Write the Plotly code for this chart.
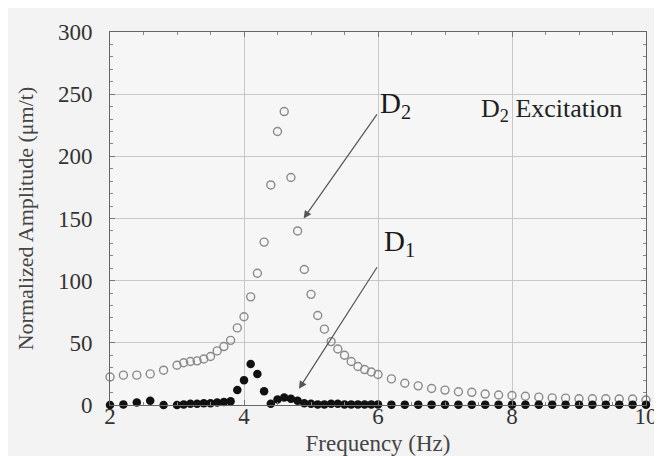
import plotly.graph_objects as go

freq = [2.0, 2.2, 2.4, 2.6, 2.8,
        3.0, 3.1, 3.2, 3.3, 3.4, 3.5, 3.6, 3.7, 3.8, 3.9,
        4.0, 4.1, 4.2, 4.3, 4.4, 4.5, 4.6, 4.7, 4.8, 4.9,
        5.0, 5.1, 5.2, 5.3, 5.4, 5.5, 5.6, 5.7, 5.8, 5.9,
        6.0, 6.2, 6.4, 6.6, 6.8, 7.0, 7.2, 7.4, 7.6, 7.8,
        8.0, 8.2, 8.4, 8.6, 8.8, 9.0, 9.2, 9.4, 9.6, 9.8, 10.0]

d2_amp = [22.5, 24, 24, 25, 28,
          32, 34, 35, 35.5, 37, 39, 43.5, 47, 52, 62,
          71, 87, 106, 131, 177, 220, 236, 183, 140, 109,
          89, 72, 61, 51, 45, 40, 35, 31, 28.5, 26.5,
          24.5, 21, 17.5, 15.4, 13.3, 12, 10.7, 10.2, 8.8, 8,
          7.6, 7, 6.3, 5.7, 5.5, 5, 5, 5, 4.8, 4.8, 4]

d1_amp = [0, 0.5, 2, 3.5, 0,
          0, 0.5, 1, 1, 1.5, 1.5, 2, 2.5, 3, 12,
          20, 33, 25, 11, 1, 4.5, 6, 5, 3.5, 1.5,
          1, 0.5, 0.5, 1, 1, 0.5, 0.5, 0.5, 0.5, 0.5,
          0.5, 0.3, 0.3, 0.3, 0.3, 0.3, 0.3, 0.3, 0.3, 0.3,
          0.3, 0.3, 0.3, 0.3, 0.3, 0.3, 0.3, 0.3, 0.3, 0.3, 0.3]

x_ticks = [2, 4, 6, 8, 10]
y_ticks = [0, 50, 100, 150, 200, 250, 300]

FONT = "Liberation Serif"

fig = go.Figure()
fig.add_trace(go.Scatter(
    x=freq, y=d2_amp, mode="markers", name="D2",
    marker=dict(symbol="circle-open", size=8, color="#8a8a8a", line=dict(width=1.4, color="#8a8a8a")),
    cliponaxis=False,
))
fig.add_trace(go.Scatter(
    x=freq, y=d1_amp, mode="markers", name="D1",
    marker=dict(symbol="circle", size=8.5, color="#111111"),
    cliponaxis=False,
))

# arrows
fig.add_annotation(x=4.89, y=150, ax=6.0, ay=235, xref="x", yref="y", axref="x", ayref="y",
                   text="", showarrow=True, arrowhead=2, arrowsize=1.3, arrowwidth=1.2,
                   arrowcolor="#555555")
fig.add_annotation(x=4.82, y=13, ax=6.0, ay=112, xref="x", yref="y", axref="x", ayref="y",
                   text="", showarrow=True, arrowhead=2, arrowsize=1.3, arrowwidth=1.2,
                   arrowcolor="#555555")
# labels
fig.add_annotation(x=6.0, y=241, xref="x", yref="y", text="D<sub>2</sub>", showarrow=False,
                   xanchor="left", yanchor="middle", font=dict(family=FONT, size=29, color="#1a1a1a"))
fig.add_annotation(x=6.06, y=130, xref="x", yref="y", text="D<sub>1</sub>", showarrow=False,
                   xanchor="left", yanchor="middle", font=dict(family=FONT, size=29, color="#1a1a1a"))
fig.add_annotation(x=7.5, y=237, xref="x", yref="y", text="D<sub>2</sub> Excitation", showarrow=False,
                   xanchor="left", yanchor="middle", font=dict(family=FONT, size=26, color="#222222"))

axis_common = dict(
    showline=True, linecolor="#666666", linewidth=1, mirror="ticks",
    showgrid=True, gridcolor="#c8c8c8", gridwidth=1,
    ticks="inside", ticklen=5, tickcolor="#777777", zeroline=False,
    tickfont=dict(family=FONT, size=23, color="#333333"),
)

fig.update_xaxes(
    range=[2, 10], tickvals=x_ticks, ticktext=[str(v) for v in x_ticks],
    title=dict(text="Frequency (Hz)", font=dict(family=FONT, size=23, color="#444444"), standoff=7),
    minor=dict(dtick=0.5, ticks="inside", ticklen=3, tickcolor="#888888", showgrid=False),
    ticklabelstandoff=-10,
    **axis_common,
)
fig.update_yaxes(
    range=[0, 300], tickvals=y_ticks, ticktext=[str(v) for v in y_ticks],
    title=dict(text="Normalized Amplitude (μm/t)", font=dict(family=FONT, size=22, color="#444444"), standoff=18),
    minor=dict(dtick=10, ticks="inside", ticklen=3, tickcolor="#888888", showgrid=False),
    ticklabelstandoff=12,
    **axis_common,
)

fig.update_layout(
    width=662, height=456,
    margin=dict(l=102, r=17, t=20, b=53),
    paper_bgcolor="#f3f3f3", plot_bgcolor="#f6f6f6",
    showlegend=False,
    font=dict(family=FONT),
)

fig.write_html("out.html")
